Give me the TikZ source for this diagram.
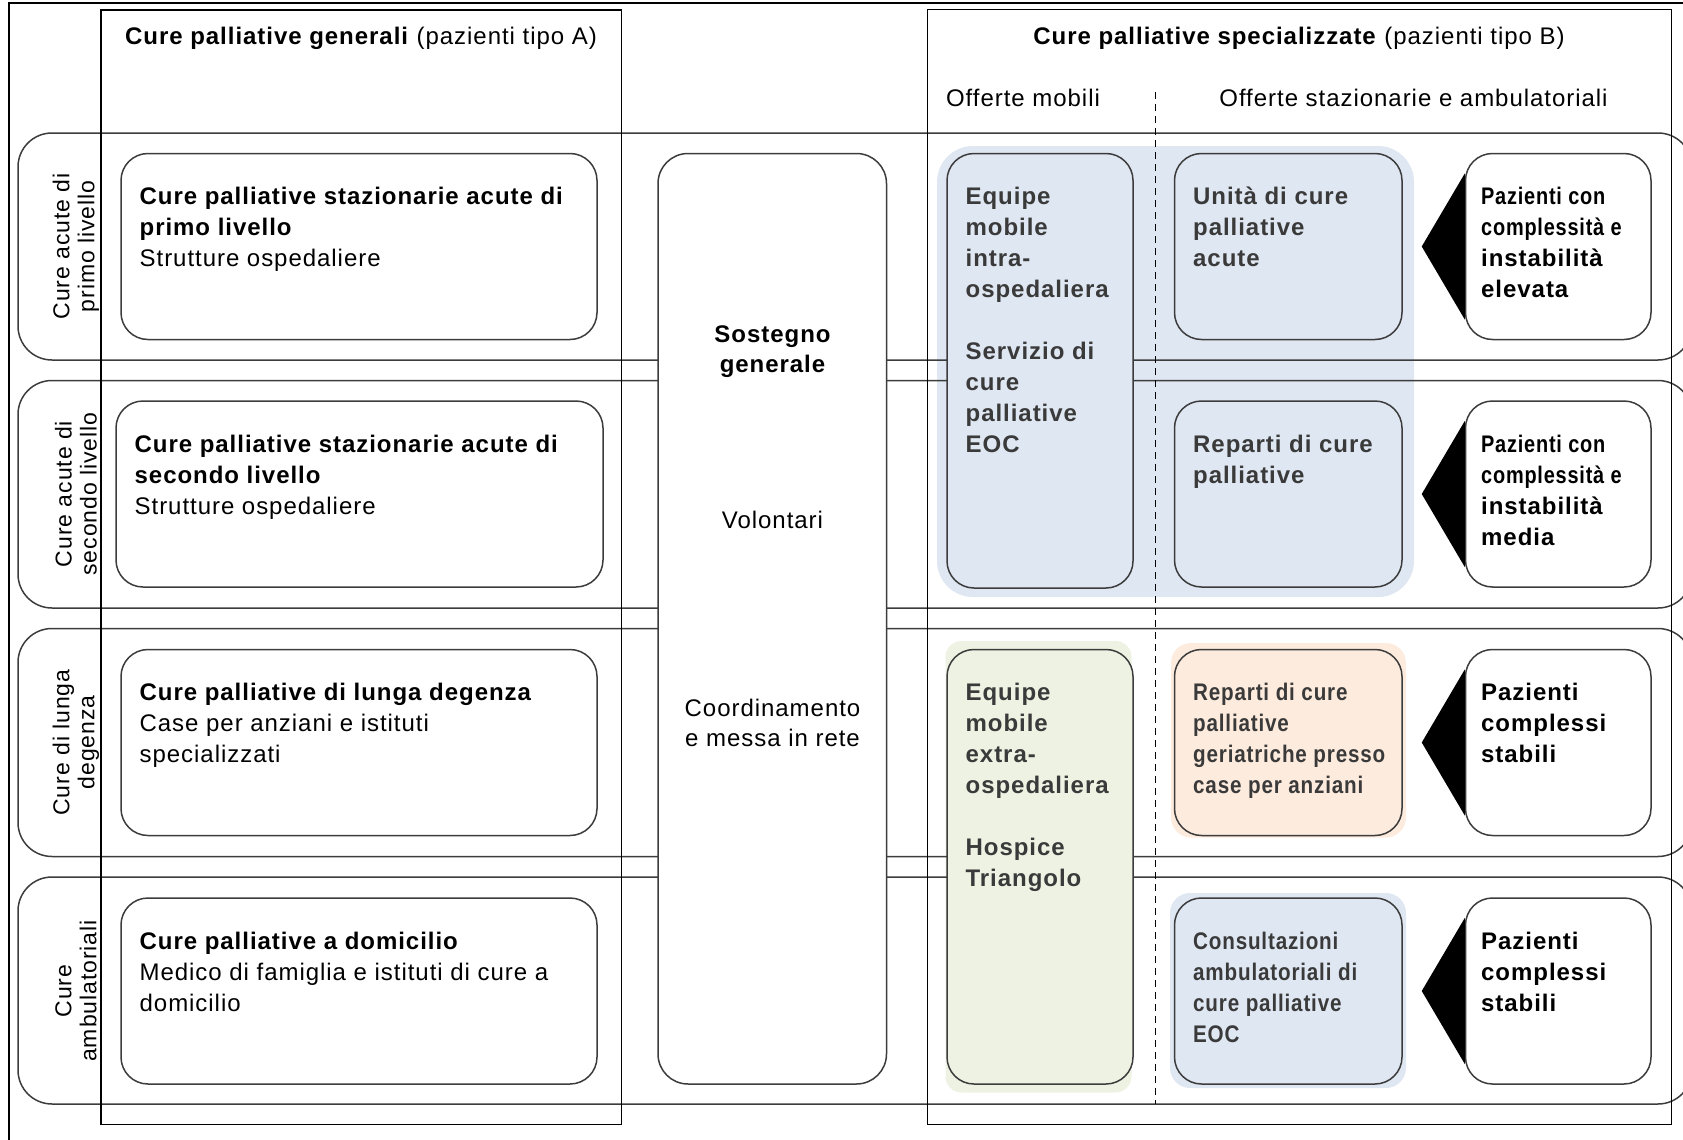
\documentclass[tikz,border=0pt]{standalone}
\usepackage{fontspec}
\setmainfont{Liberation Sans}[LetterSpace=4]
\usetikzlibrary{positioning,calc}
\definecolor{bluchiaro}{RGB}{223,231,242}
\definecolor{verdechiaro}{RGB}{238,242,227}
\definecolor{aranciochiaro}{RGB}{253,235,221}
\definecolor{testogrigio}{RGB}{58,58,58}
\definecolor{bordo}{RGB}{60,60,60}
\newcommand{\stretto}[1]{\scalebox{0.83}[1]{#1}}
\newcommand{\strettino}[1]{\scalebox{0.86}[1]{#1}}
\pgfkeys{tikz/riquadro/.style={draw=bordo,line width=0.75pt,fill=white,rounded corners=13.5pt,inner sep=0pt}}
\pgfkeys{tikz/testo/.style={inner sep=0pt,align=left,font=\fontsize{12}{15.5}\selectfont}}
\pgfkeys{tikz/fascia/.style={draw=bordo,line width=0.75pt,rounded corners=17pt}}
\pgfkeys{tikz/etichetta/.style={rotate=90,align=center,inner sep=0pt,font=\fontsize{11.5}{12.5}\selectfont}}

\begin{document}
\begin{tikzpicture}[x=0.5pt,y=-0.5pt,font=\fontsize{12}{15.5}\selectfont]
  \useasboundingbox (0,0) rectangle (1683,1140);
  \clip (0,0) rectangle (1683,1140);

  \fill[bluchiaro,rounded corners=18pt] (937,146) rectangle (1414,597);
  \fill[verdechiaro,rounded corners=8pt] (945.5,641) rectangle (1131.5,1092.5);
  \fill[aranciochiaro,rounded corners=10pt] (1171,643) rectangle (1406,837.5);
  \fill[bluchiaro,rounded corners=10pt] (1170,893) rectangle (1406,1088);

  \draw[fascia] (18,133) rectangle (1692,360);
  \draw[fascia] (18,380.5) rectangle (1692,608);
  \draw[fascia] (18,628.5) rectangle (1692,856.5);
  \draw[fascia] (18,877) rectangle (1692,1104);

  \draw[line width=0.75pt] (8.8,3) rectangle (1720,1180);
  \draw[line width=0.75pt] (101,10) rectangle (621.5,1124.5);
  \draw[line width=0.75pt] (927.5,9.5) rectangle (1671.5,1124.5);
  \draw[line width=0.6pt,dash pattern=on 3.5pt off 2.5pt] (1155.5,92) -- (1155.5,1104);

  \node[anchor=base] (tA) at (361,44) {\textbf{Cure palliative generali} (pazienti tipo A)};
  \node[anchor=base] (tB) at (1299,44) {\textbf{Cure palliative specializzate} (pazienti tipo B)};
  \node[anchor=base] (om) at (1023,106) {Offerte mobili};
  \node[anchor=base] (os) at (1413.5,106) {Offerte stazionarie e ambulatoriali};

  \node[etichetta] (r1) at (76,246.5) {Cure acute di\\primo livello};
  \node[etichetta] (r2) at (76,494) {Cure acute di\\secondo livello};
  \node[etichetta] (r3) at (76,742.5) {Cure di lunga\\degenza};
  \node[etichetta] (r4) at (76,991) {Cure\\ambulatoriali};

  \node[riquadro,minimum width=238pt,minimum height=93pt] (a1) at (359,246.5) {};
  \node[testo,below right=17pt and 9.5pt of a1.north west] (ta1) {\textbf{Cure palliative stazionarie acute di}\\\textbf{primo livello}\\Strutture ospedaliere};
  \node[riquadro,minimum width=243.5pt,minimum height=93pt] (a2) at (359.5,494) {};
  \node[testo,below right=17pt and 9.5pt of a2.north west] (ta2) {\textbf{Cure palliative stazionarie acute di}\\\textbf{secondo livello}\\Strutture ospedaliere};
  \node[riquadro,minimum width=238pt,minimum height=93pt] (a3) at (359,742.5) {};
  \node[testo,below right=17pt and 9.5pt of a3.north west] (ta3) {\textbf{Cure palliative di lunga degenza}\\Case per anziani e istituti\\specializzati};
  \node[riquadro,minimum width=238pt,minimum height=93pt] (a4) at (359,991) {};
  \node[testo,below right=17pt and 9.5pt of a4.north west] (ta4) {\textbf{Cure palliative a domicilio}\\Medico di famiglia e istituti di cure a\\domicilio};

  \node[riquadro,rounded corners=15pt,minimum width=114.25pt,minimum height=465.25pt] (sg) at (772.25,618.75) {};
  \node[anchor=north,align=center,font=\fontsize{12}{15}\selectfont\bfseries] (sg1) at (772.5,319) {Sostegno\\generale};
  \node (sg2) at (772.5,520) {Volontari};
  \node[anchor=north,align=center,font=\fontsize{12}{15}\selectfont] (sg3) at (772.5,692) {Coordinamento\\e messa in rete};

  \node[riquadro,fill=bluchiaro,minimum width=93pt,minimum height=217.25pt] (em1) at (1040,370.75) {};
  \node[testo,text=testogrigio,font=\fontsize{12}{15.5}\selectfont\bfseries,below right=17pt and 9.5pt of em1.north west] (tem1) {Equipe\\mobile\\intra-\\ospedaliera\\[15.5pt]Servizio di\\cure\\palliative\\EOC};
  \node[riquadro,fill=bluchiaro,minimum width=113.75pt,minimum height=93pt] (uc) at (1288.25,246.5) {};
  \node[testo,text=testogrigio,font=\fontsize{12}{15.5}\selectfont\bfseries,below right=17pt and 9.5pt of uc.north west] (tuc) {Unità di cure\\palliative\\acute};
  \node[riquadro,fill=bluchiaro,minimum width=113.75pt,minimum height=93pt] (rp) at (1288.25,494) {};
  \node[testo,text=testogrigio,font=\fontsize{12}{15.5}\selectfont\bfseries,below right=17pt and 9.5pt of rp.north west] (trp) {Reparti di cure\\palliative};

  \node[riquadro,fill=verdechiaro,minimum width=93pt,minimum height=217.25pt] (em2) at (1040,866.75) {};
  \node[testo,text=testogrigio,font=\fontsize{12}{15.5}\selectfont\bfseries,below right=17pt and 9.5pt of em2.north west] (tem2) {Equipe\\mobile\\extra-\\ospedaliera\\[15.5pt]Hospice\\Triangolo};
  \node[riquadro,fill=aranciochiaro,minimum width=113.75pt,minimum height=93pt] (rg) at (1288.25,742.5) {};
  \node[testo,text=testogrigio,font=\fontsize{12}{15.5}\selectfont\bfseries,below right=17pt and 9.5pt of rg.north west] (trg) {\strettino{Reparti di cure}\\\strettino{palliative}\\\strettino{geriatriche presso}\\\strettino{case per anziani}};
  \node[riquadro,fill=bluchiaro,minimum width=113.75pt,minimum height=93pt] (cs) at (1288.25,991) {};
  \node[testo,text=testogrigio,font=\fontsize{12}{15.5}\selectfont\bfseries,below right=17pt and 9.5pt of cs.north west] (tcs) {\strettino{Consultazioni}\\\strettino{ambulatoriali di}\\\strettino{cure palliative}\\\strettino{EOC}};

  \node[riquadro,minimum width=92.75pt,minimum height=93pt] (pz1) at (1558.25,246.5) {};
  \node[testo,font=\fontsize{12}{15.5}\selectfont\bfseries,below right=17pt and 8pt of pz1.north west] (tpz1) {\stretto{Pazienti con}\\\stretto{complessità e}\\instabilità\\elevata};
  \node[riquadro,minimum width=92.75pt,minimum height=93pt] (pz2) at (1558.25,494) {};
  \node[testo,font=\fontsize{12}{15.5}\selectfont\bfseries,below right=17pt and 8pt of pz2.north west] (tpz2) {\stretto{Pazienti con}\\\stretto{complessità e}\\instabilità\\media};
  \node[riquadro,minimum width=92.75pt,minimum height=93pt] (pz3) at (1558.25,742.5) {};
  \node[testo,font=\fontsize{12}{15.5}\selectfont\bfseries,below right=17pt and 8pt of pz3.north west] (tpz3) {Pazienti\\complessi\\stabili};
  \node[riquadro,minimum width=92.75pt,minimum height=93pt] (pz4) at (1558.25,991) {};
  \node[testo,font=\fontsize{12}{15.5}\selectfont\bfseries,below right=17pt and 8pt of pz4.north west] (tpz4) {Pazienti\\complessi\\stabili};

  \fill ($(pz1.west)+(-43,0)$) -- ($(pz1.west)+(0,-73)$) -- ($(pz1.west)+(0,73)$) -- cycle;
  \fill ($(pz2.west)+(-43,0)$) -- ($(pz2.west)+(0,-73)$) -- ($(pz2.west)+(0,73)$) -- cycle;
  \fill ($(pz3.west)+(-43,0)$) -- ($(pz3.west)+(0,-73)$) -- ($(pz3.west)+(0,73)$) -- cycle;
  \fill ($(pz4.west)+(-43,0)$) -- ($(pz4.west)+(0,-73)$) -- ($(pz4.west)+(0,73)$) -- cycle;
\end{tikzpicture}
\end{document}
